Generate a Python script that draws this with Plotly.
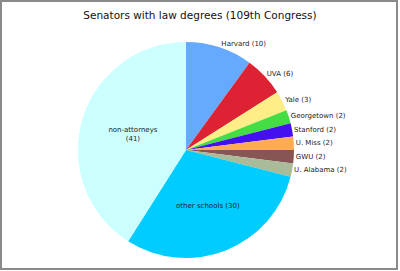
import plotly.graph_objects as go

labels = ["Harvard", "UVA", "Yale", "Georgetown", "Stanford", "U. Miss", "GWU",
          "U. Alabama", "other schools", "non-attorneys"]
values = [10, 6, 3, 2, 2, 2, 2, 2, 30, 41]
display = ["Harvard (10)", "UVA (6)", "Yale (3)", "Georgetown (2)", "Stanford (2)",
           "U. Miss (2)", "GWU (2)", "U. Alabama (2)", "other schools (30)",
           "non-attorneys<br>(41)"]
colors = ["#66aaff", "#dd2233", "#ffee88", "#44dd44", "#4411ee", "#ffaa55",
          "#885555", "#aabb99", "#00ccff", "#ccffff"]
positions = ["outside"] * 8 + ["inside", "inside"]

W, H = 400, 271
ml, mr, mt, mb = 78, 106, 42, 13
pw, ph = W - ml - mr, H - mt - mb

fig = go.Figure(go.Pie(
    labels=labels, values=values, text=display, textinfo="text",
    textposition=positions, sort=False, direction="clockwise", rotation=0,
    marker=dict(colors=colors, line=dict(width=0)),
    textfont=dict(family="DejaVu Sans", size=7, color="#222222"),
    insidetextorientation="horizontal", showlegend=False, hoverinfo="skip",
))

def px(x):
    return (x - ml) / pw

def py(y):
    return 1 - (y - mt) / ph

fig.add_shape(type="rect", xref="paper", yref="paper",
              x0=px(1), x1=px(397), y0=py(269), y1=py(1),
              line=dict(color="#8a8a8a", width=2), layer="above")

fig.update_layout(
    width=W, height=H, margin=dict(l=ml, r=mr, t=mt, b=mb),
    paper_bgcolor="white", plot_bgcolor="white",
    title=dict(text="Senators with law degrees (109th Congress)",
               font=dict(family="DejaVu Sans", size=10.5, color="#111111"),
               x=0.5, xanchor="center", y=1 - 15 / H, yanchor="middle"),
)

fig.write_html("out.html")
